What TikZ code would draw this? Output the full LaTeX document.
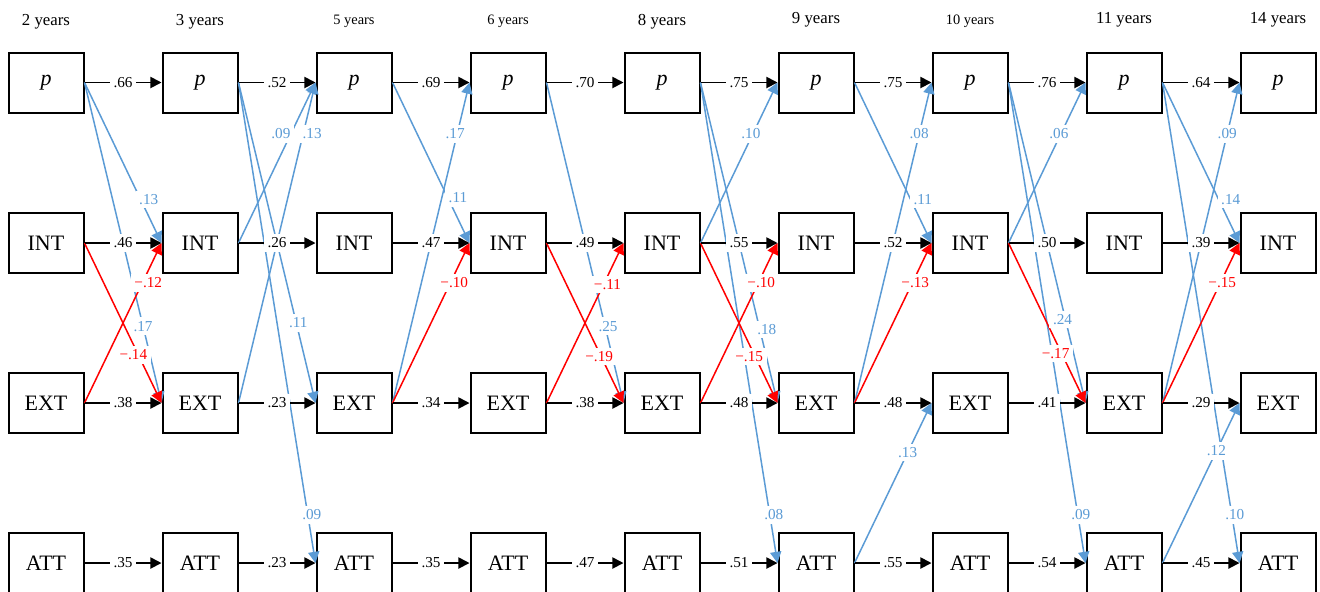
\documentclass[tikz,border=0pt]{standalone}
\usepackage{fontspec}
\setmainfont{Liberation Serif}
\usetikzlibrary{arrows.meta}
\definecolor{pathblue}{RGB}{91,155,213}
\definecolor{pathred}{RGB}{255,0,0}

\tikzset{
  var/.style={draw, line width=1pt, minimum width=37.5pt, minimum height=30pt,
    inner sep=0pt, font=\fontsize{11}{13}\selectfont},
  lab/.style={fill=white, inner sep=1.8pt, font=\fontsize{7.6}{8}\selectfont},
  ar/.style={line width=0.9pt, -{Triangle[length=5.6pt,width=5.6pt]}},
  cr/.style={line width=0.75pt, -{Triangle[length=5.6pt,width=5.6pt]}},
  yr/.style={anchor=base, inner sep=0pt}
}

% cross-lagged paths: from/to/estimate/pos/shift/colour
\def\crosslist{p1/INT2/.13/.73/4/pathblue, p1/EXT2/.17/.76/0/pathblue,
  INT1/EXT2/−.14/.70/-2.5/pathred, EXT1/INT2/−.12/.75/3/pathred,
  p2/EXT3/.11/.75/1/pathblue, p2/ATT3/.09/.90/2/pathblue,
  INT2/p3/.09/.68/-5/pathblue, EXT2/p3/.13/.84/4.5/pathblue,
  p3/INT4/.11/.72/5/pathblue, EXT3/p4/.17/.84/-1/pathblue,
  EXT3/INT4/−.10/.75/2/pathred,
  p4/EXT5/.25/.76/1.5/pathblue, INT4/EXT5/−.19/.71/-1/pathred,
  EXT4/INT5/−.11/.74/2/pathred,
  p5/EXT6/.18/.77/3.5/pathblue, p5/ATT6/.08/.90/2/pathblue,
  INT5/p6/.10/.68/-1/pathblue, INT5/EXT6/−.15/.71/-3/pathred,
  EXT5/INT6/−.10/.75/1.5/pathred,
  p6/INT7/.11/.73/6/pathblue, EXT6/p7/.08/.84/0/pathblue,
  EXT6/INT7/−.13/.75/1.5/pathred, ATT6/EXT7/.13/.69/0/pathblue,
  p7/EXT8/.24/.74/-1.5/pathblue, p7/ATT8/.09/.90/1.5/pathblue,
  INT7/p8/.06/.68/-1/pathblue, INT7/EXT8/−.17/.69/-3/pathred,
  p8/INT9/.14/.73/6/pathblue, p8/ATT9/.10/.90/1.5/pathblue,
  EXT8/p9/.09/.84/0/pathblue, EXT8/INT9/−.15/.75/1/pathred,
  ATT8/EXT9/.12/.70/0/pathblue}

\begin{document}
\begin{tikzpicture}[x=0.5pt,y=-0.5pt]
  \useasboundingbox (0,0) rectangle (1320,591);
% Boxes, one column per wave
  \foreach \i/\t/\s/\h in {1/2/8.4/25, 2/3/8.4/25, 3/5/7.2/24, 4/6/7.2/24,
      5/8/8.4/25, 6/9/8.4/23, 7/10/7.2/24, 8/11/8.4/23, 9/14/8.4/23} {
    \pgfmathsetmacro\x{46+154*(\i-1)}
    \node[yr, font=\fontsize{\s}{\s}\selectfont] (yr\i) at (\x,\h) {\t\ years};
    \node[var] (p\i) at (\x,82.5) {\textit{p}};
    \node[var] (INT\i) at (\x,243) {INT};
    \node[var] (EXT\i) at (\x,403) {EXT};
    \node[var] (ATT\i) at (\x,563) {ATT};
  }
  \foreach \s/\t/\l/\q/\dx/\c in \crosslist
    \draw[cr, \c] (\s.east) -- (\t.west);
% Stability paths
  \foreach \i/\a/\b/\c/\d in {1/.66/.46/.38/.35, 2/.52/.26/.23/.23,
      3/.69/.47/.34/.35, 4/.70/.49/.38/.47, 5/.75/.55/.48/.51,
      6/.75/.52/.48/.55, 7/.76/.50/.41/.54, 8/.64/.39/.29/.45} {
    \pgfmathtruncatemacro\j{\i+1}
    \draw[ar] (p\i) -- node[lab] {\a} (p\j);
    \draw[ar] (INT\i) -- node[lab] {\b} (INT\j);
    \draw[ar] (EXT\i) -- node[lab] {\c} (EXT\j);
    \draw[ar] (ATT\i) -- node[lab] {\d} (ATT\j);
  }
  \foreach \s/\t/\l/\q/\dx/\c in \crosslist
    \path (\s.east) -- node[lab, text=\c, pos=\q, xshift=\dx pt] {\l} (\t.west);
\end{tikzpicture}
\end{document}
